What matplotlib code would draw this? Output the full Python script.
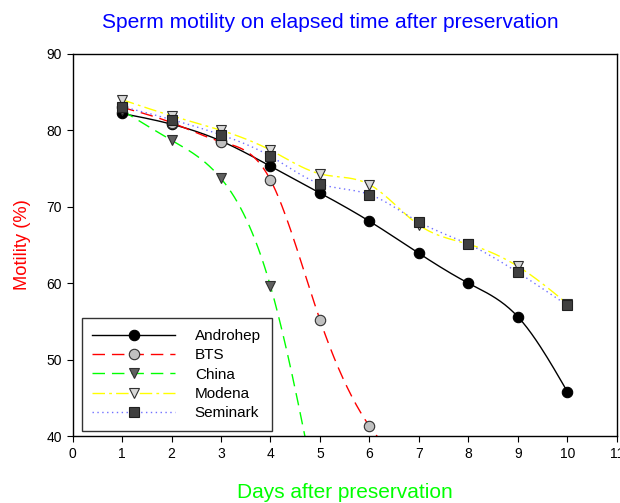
import matplotlib
matplotlib.use('Agg')
import matplotlib.pyplot as plt
import numpy as np

plt.rcParams['font.family'] = ['Liberation Sans', 'DejaVu Sans']

# Dados
dias = [1, 2, 3, 4, 5, 6, 7, 8, 9, 10]
androhep = [82.2, 80.8, 78.6, 75.3, 71.8, 68.1, 63.9, 60.0, 55.6, 45.8]
bts_dias = [1, 2, 3, 4, 5, 6, 7]
bts = [83.0, 81.0, 78.5, 73.5, 55.2, 41.3, 35.0]
china_dias = [1, 2, 3, 4, 5]
china = [82.6, 78.7, 73.7, 59.6, 30.0]
modena = [84.0, 81.9, 80.0, 77.4, 74.3, 72.9, 67.6, 65.1, 62.2, 57.3]
seminark = [83.1, 81.4, 79.4, 76.6, 73.0, 71.6, 68.0, 65.1, 61.4, 57.1]


# spline cubica natural (sem scipy)
def spline(x, y, n=200):
    x, y = np.array(x, float), np.array(y, float)
    k = len(x)
    h = np.diff(x)
    A = np.zeros((k, k))
    b = np.zeros(k)
    A[0, 0] = A[-1, -1] = 1
    for i in range(1, k - 1):
        A[i, i - 1] = h[i - 1]
        A[i, i] = 2 * (h[i - 1] + h[i])
        A[i, i + 1] = h[i]
        b[i] = 3 * ((y[i + 1] - y[i]) / h[i] - (y[i] - y[i - 1]) / h[i - 1])
    c = np.linalg.solve(A, b)
    xs = np.linspace(x[0], x[-1], n)
    ys = np.zeros_like(xs)
    for j, xv in enumerate(xs):
        i = min(np.searchsorted(x, xv, side='right') - 1, k - 2)
        d = (c[i + 1] - c[i]) / (3 * h[i])
        bb = (y[i + 1] - y[i]) / h[i] - h[i] * (2 * c[i] + c[i + 1]) / 3
        t = xv - x[i]
        ys[j] = y[i] + bb * t + c[i] * t ** 2 + d * t ** 3
    return xs, ys


fig = plt.figure(figsize=(6.2, 5.03), dpi=100)
ax = fig.add_axes([0.117, 0.133, 0.878, 0.760])

series = [
    ('Androhep', dias, androhep, 'black', '-', 'o', 'black', 'black', 7.5),
    ('BTS', bts_dias, bts, 'red', (0, (9, 5)), 'o', '#c0c0c0', '#303030', 7.5),
    ('China', china_dias, china, '#00ff00', (0, (9, 5)), 'v', '#606060', '#303030', 7.5),
    ('Modena', dias, modena, '#ffff00', (0, (9, 3, 2, 3)), 'v', '#d8d8d8', '#303030', 7.5),
    ('Seminark', dias, seminark, '#7070ff', (0, (1, 2.5)), 's', '#404040', '#202020', 6.8),
]

for nome, x, y, cor, ls, mk, fc, ec, ms in series:
    xs, ys = spline(x, y)
    ax.plot(xs, ys, color=cor, linestyle=ls, linewidth=1, zorder=2)
    ax.plot(x, y, linestyle='none', marker=mk, markerfacecolor=fc,
            markeredgecolor=ec, markersize=ms, markeredgewidth=0.8, zorder=3)
    # entrada da legenda
    ax.plot([], [], color=cor, linestyle=ls, linewidth=1, marker=mk,
            markerfacecolor=fc, markeredgecolor=ec, markersize=ms,
            markeredgewidth=0.8, label=nome)

ax.set_xlim(0, 11)
ax.set_ylim(40, 90)
ax.set_xticks(range(0, 12))
ax.set_yticks(range(40, 91, 10))
ax.tick_params(direction='out', length=4, labelsize=10, top=False, right=False)
for s in ax.spines.values():
    s.set_linewidth(1)

ax.set_xlabel('Days after preservation', color='#00ff00', fontsize=15, labelpad=16)
ax.set_ylabel('Motility (%)', color='red', fontsize=13.2, labelpad=11)
fig.text(0.532, 0.955, 'Sperm motility on elapsed time after preservation',
         color='blue', fontsize=15.1, ha='center', va='center')

leg = ax.legend(loc='lower left', bbox_to_anchor=(0.017, 0.013), fontsize=11,
                handlelength=5.4, markerfirst=True, frameon=True, fancybox=False,
                borderpad=0.7, borderaxespad=0, labelspacing=0.35,
                handletextpad=1.3)
leg.get_frame().set_edgecolor('black')
leg.get_frame().set_linewidth(1)

fig.savefig('out.png', dpi=100)
